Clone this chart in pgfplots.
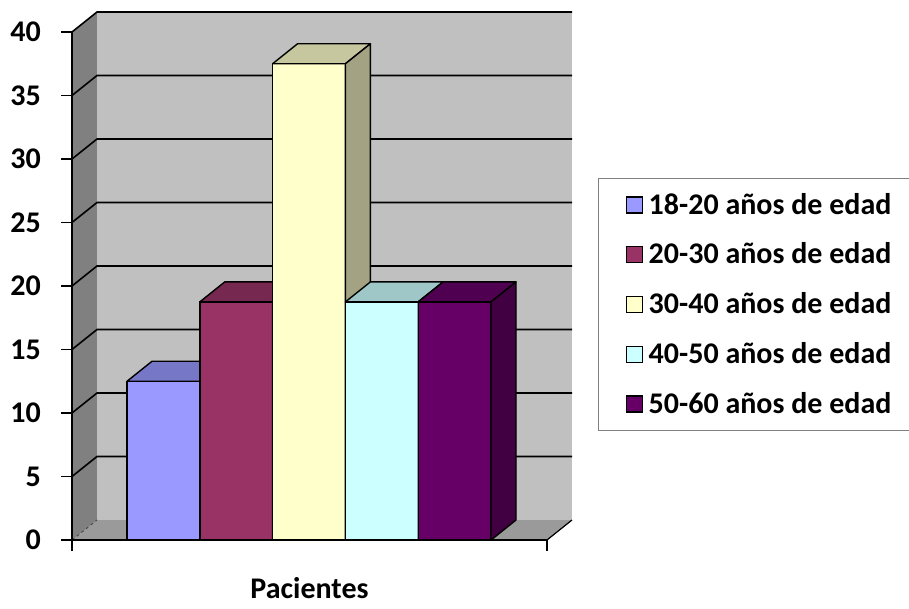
\documentclass[border=0pt]{standalone}
\usepackage{fontspec}
\setmainfont{Carlito}
\usepackage{pgfplots}
\pgfplotsset{compat=1.18}

\definecolor{c1}{HTML}{9999FF}
\definecolor{c2}{HTML}{993366}
\definecolor{c3}{HTML}{FFFFCC}
\definecolor{c4}{HTML}{CCFFFF}
\definecolor{c5}{HTML}{660066}
\definecolor{backwall}{HTML}{C0C0C0}
\definecolor{sidewall}{HTML}{808080}
\definecolor{floorc}{HTML}{9A9A9A}

% oblique depth of the 3-D box: horizontal shift (x units) and vertical shift (value units)
\newcommand{\depthx}{25}
\newcommand{\depthy}{1.575}
\newcommand{\barw}{72.8}
\newcommand{\chartfont}{\fontsize{30}{32}\selectfont\bfseries}

\pgfplotsset{
  barface/.style={draw=black, line width=1.4pt, line join=round, forget plot},
  gridline/.style={black, line width=1.6pt, forget plot},
}

% one gridline level: diagonal on the side wall, horizontal on the back wall
\newcommand{\gridlevel}[1]{%
  \pgfmathsetmacro{\gb}{#1+\depthy}%
  \edef\tmp{\noexpand\addplot[gridline] coordinates {(72,#1) (97,\gb) (572,\gb)};}\tmp
}

% one 3-D column: front face, top face and right side face
\newcommand{\barthreed}[3]{%
  \pgfmathsetmacro{\bR}{#1+\barw}%
  \pgfmathsetmacro{\bLb}{#1+\depthx}%
  \pgfmathsetmacro{\bRb}{#1+\barw+\depthx}%
  \pgfmathsetmacro{\bVb}{#2+\depthy}%
  \edef\tmp{%
    \noexpand\addplot[barface, fill=#3] coordinates {(#1,0) (\bR,0) (\bR,#2) (#1,#2)} --cycle;
    \noexpand\addplot[barface, fill=#3!78!black] coordinates {(#1,#2) (\bR,#2) (\bRb,\bVb) (\bLb,\bVb)} --cycle;
    \noexpand\addplot[barface, fill=#3!64!black] coordinates {(\bR,0) (\bRb,\depthy) (\bRb,\bVb) (\bR,#2)} --cycle;
  }\tmp
}

\begin{document}
\begin{tikzpicture}
\useasboundingbox (0pt,0pt) rectangle (909pt,-608pt);
\begin{axis}[
  at={(72pt,-540pt)}, anchor=south west,
  scale only axis, width=500pt, height=528pt,
  xmin=72, xmax=572, ymin=0, ymax=41.575,
  clip=false,
  axis x line*=bottom, axis y line*=left,
  axis line style={draw=none},
  tick align=outside,
  ytick={0,5,...,40},
  xtick={72,547}, xticklabels={},
  major tick length=11pt,
  tick style={black, line width=1.3pt},
  yticklabel style={font=\chartfont, inner sep=0pt, xshift=-20pt},
  /pgf/number format/assume math mode=true,
  xlabel={Pacientes},
  xlabel style={at={(axis description cs:0.475,-0.1117)}, anchor=base,
                font=\chartfont, inner sep=0pt},
  legend cell align=left,
  legend image code/.code={\draw[#1, draw=black, line width=1.2pt] (0pt,-8pt) rectangle (16pt,8pt);},
  legend style={at={(axis description cs:1.052,0.6856)}, anchor=north west,
    draw=gray, line width=1pt, fill=white,
    inner xsep=27pt, inner ysep=13.5pt, row sep=23.75pt,
    font=\chartfont,
    nodes={inner sep=0pt, text height=22pt, text depth=4pt},
    /tikz/every odd column/.append style={column sep=6pt}},
]
% walls and floor
\addplot[fill=sidewall, draw=none, forget plot] coordinates {(72,0) (72,40) (97,41.575) (97,1.575)} --cycle;
\addplot[fill=backwall, draw=none, forget plot] coordinates {(97,1.575) (572,1.575) (572,41.575) (97,41.575)} --cycle;
\addplot[fill=floorc, draw=none, forget plot] coordinates {(72,0) (547,0) (572,1.575) (97,1.575)} --cycle;
\addplot[black!70, dashed, line width=1pt, forget plot] coordinates {(72,0) (97,1.575)};
\addplot[black, line width=1.2pt, forget plot] coordinates {(547,0) (572,1.575)};

% gridlines
\gridlevel{5}
\gridlevel{10}
\gridlevel{15}
\gridlevel{20}
\gridlevel{25}
\gridlevel{30}
\gridlevel{35}
\gridlevel{40}

% columns (left edge, value, colour)
\barthreed{127.0}{12.5}{c1}
\barthreed{199.8}{18.75}{c2}
\barthreed{272.6}{37.5}{c3}
\barthreed{345.4}{18.75}{c4}
\barthreed{418.2}{18.75}{c5}

% front axis lines
\addplot[black, line width=1.8pt, forget plot] coordinates {(72,40) (72,0) (547,0)};

\addlegendimage{fill=c1}
\addlegendentry{18-20 años de edad}
\addlegendimage{fill=c2}
\addlegendentry{20-30 años de edad}
\addlegendimage{fill=c3}
\addlegendentry{30-40 años de edad}
\addlegendimage{fill=c4}
\addlegendentry{40-50 años de edad}
\addlegendimage{fill=c5}
\addlegendentry{50-60 años de edad}
\end{axis}
\end{tikzpicture}
\end{document}
